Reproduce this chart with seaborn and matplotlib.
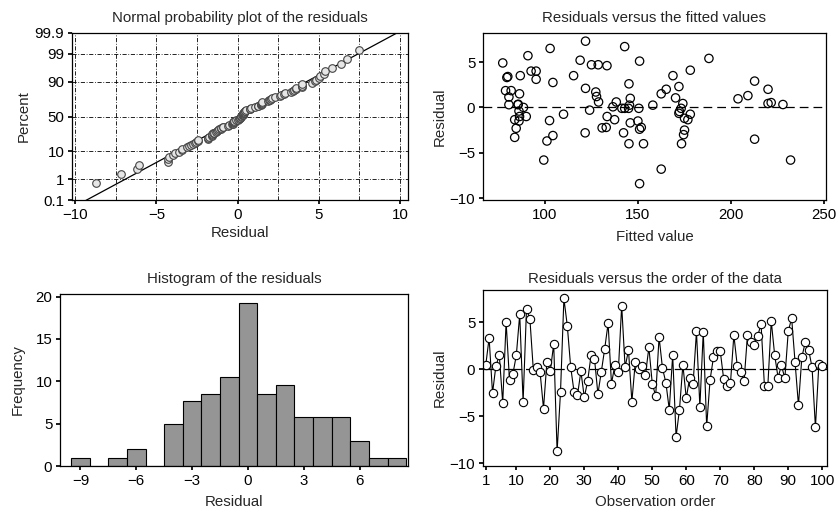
import numpy as np
import pandas as pd
import matplotlib
matplotlib.use('Agg')
import matplotlib.pyplot as plt
import matplotlib.ticker as mticker
import seaborn as sns
from statistics import NormalDist

# residuals in observation order
order_resid = [0.4, 3.3, -2.55, 0.35, 1.45, -3.6, 5.0, -1.2, -0.5, 1.45,
               5.8, -3.45, 6.4, 5.3, -0.07, 0.18, -0.35, -4.2, 0.8, -0.2,
               2.65, -8.75, -2.45, 7.5, 4.6, 0.2, -2.45, -2.75, -0.25, -3.0,
               -1.25, 1.5, 1.1, -2.65, -0.3, 2.15, 4.85, -1.55, 0.45, -0.3,
               6.75, 0.2, 2.0, -3.45, 0.75, 0.0, 0.3, -0.6, 2.3, -1.55,
               -2.85, 3.4, 0.1, -1.45, -4.3, 1.5, -7.2, -4.3, 0.45, -3.1,
               -0.9, -1.6, 4.0, -4.0, 3.95, -6.1, -1.15, 1.25, 1.95, 1.9,
               -1.05, -1.85, -1.5, 3.6, 0.35, -0.3, -1.3, 3.6, 2.9, 2.6,
               3.5, 4.8, -1.85, -1.75, 5.1, 1.5, -0.9, 0.4, -1.0, 4.0,
               5.4, 0.75, -3.85, 1.25, 2.85, 2.05, 0.18, -6.2, 0.5, 0.35]

# residuals versus fitted values
fitted = [77.6, 79.8, 80.3, 79.1, 82.1, 80.9, 80.9, 86.6, 87.0, 91.1,
          92.8, 95.5, 95.5, 85.7, 86.3, 86.6, 88.7, 90.2, 84.0, 84.8,
          84.0, 86.3, 85.9, 103.0, 104.5, 102.7, 104.5, 101.3, 99.6, 110.2,
          115.6, 119.1, 122.0, 122.0, 124.2, 121.8, 125.2, 128.8, 127.5, 127.9,
          129.0, 133.5, 130.9, 133.1, 133.6, 137.6, 136.7, 138.5, 141.5, 143.0,
          142.4, 143.0, 145.1, 145.6, 146.0, 145.3, 146.0, 145.3, 150.6, 150.1,
          151.0, 151.9, 151.0, 153.1, 151.0, 158.1, 162.6, 165.3, 162.6, 168.9,
          170.3, 172.1, 172.1, 172.4, 173.3, 174.2, 174.6, 173.5, 175.1, 175.1,
          176.9, 178.2, 178.2, 188.2, 203.8, 209.1, 212.7, 212.7, 219.9, 219.9,
          221.6, 227.9, 232.0]
fitted_resid = [4.9, 3.3, 3.4, 1.85, 1.85, 1.15, 0.3, 1.5, 3.5, 5.7,
                4.0, 4.0, 3.1, 0.3, -0.4, -1.0, 0.0, -1.0, -1.35, -2.3,
                -3.3, -1.5, 0.35, 6.5, 2.75, -1.45, -3.1, -3.7, -5.8, -0.75,
                3.5, 5.2, 7.3, 2.1, -0.3, -2.8, 4.7, 4.7, 1.7, 1.2,
                0.6, 4.6, -2.25, -2.2, -1.0, -1.35, 0.07, 0.6, -0.1, -0.1,
                -2.8, 6.7, -0.1, 0.25, 1.0, 2.6, -1.7, -4.0, -0.1, -1.5,
                -2.4, -2.2, 5.1, -4.0, -8.4, 0.25, 1.5, 2.0, -6.8, 3.5,
                1.05, 2.3, -0.65, -0.45, -0.1, 0.43, -3.0, -4.0, -2.5, -1.2,
                -1.35, -0.75, 4.1, 5.4, 0.95, 1.3, 2.9, -3.5, 2.0, 0.43,
                0.53, 0.32, -5.8]

# histogram (bin centres and bar heights)
hist_centers = [-9, -7, -6, -4, -3, -2, -1, 0, 1, 2, 3, 4, 5, 6, 7, 8]
hist_counts = [1, 1, 2, 5, 7.7, 8.5, 10.5, 19.2, 8.5, 9.6, 5.8, 5.8, 5.8, 2.9, 1, 1]
hist_edges = [e - 0.5 for e in range(-9, 10)]

prob_ticks = [0.1, 1, 10, 50, 90, 99, 99.9]

sns.set_theme(style='ticks')
plt.rcParams['font.family'] = ['Liberation Sans', 'DejaVu Sans']
fs = 10.8
plt.rcParams['font.size'] = fs
plt.rcParams['axes.edgecolor'] = 'black'
plt.rcParams['axes.linewidth'] = 0.9
plt.rcParams['xtick.color'] = 'black'
plt.rcParams['ytick.color'] = 'black'
plt.rcParams['xtick.labelsize'] = fs
plt.rcParams['ytick.labelsize'] = fs
plt.rcParams['axes.labelsize'] = fs
plt.rcParams['axes.titlesize'] = fs
plt.rcParams['xtick.major.size'] = 3
plt.rcParams['ytick.major.size'] = 3
plt.rcParams['xtick.major.pad'] = 2.5
plt.rcParams['ytick.major.pad'] = 2.5

W, H = 839, 515
fig = plt.figure(figsize=(W / 100, H / 100), dpi=100)


def box(l, r, t, b):
    return fig.add_axes([l / W, (H - b) / H, (r - l) / W, (b - t) / H])


nd = NormalDist()
_inv = np.vectorize(lambda p: nd.inv_cdf(p), otypes=[float])
_cdf = np.vectorize(lambda z: nd.cdf(z), otypes=[float])


def pct_to_z(p):
    p = np.clip(np.asarray(p, dtype=float) / 100.0, 1e-9, 1 - 1e-9)
    return _inv(p)


def z_to_pct(z):
    return _cdf(np.asarray(z, dtype=float)) * 100.0


# --- normal probability plot
ax1 = box(72, 408, 33, 200)
res = np.sort(np.array(order_resid))
n = len(res)
pct = (np.arange(1, n + 1) - 0.3) / (n + 0.4) * 100
mu, sd = res.mean(), res.std(ddof=1)
ax1.set_yscale('function', functions=(pct_to_z, z_to_pct))
line_p = np.array([0.05, 0.1, 1, 10, 50, 90, 99, 99.9, 99.95])
ax1.plot(mu + sd * pct_to_z(line_p), line_p, color='black', lw=0.9, zorder=2)
sns.scatterplot(x=res, y=pct, ax=ax1, marker='o', s=30, facecolor='#e6e6e6',
                edgecolor='#444444', linewidth=0.8, zorder=3)
ax1.set_xlim(-10.2, 10.5)
ax1.set_ylim(0.1, 99.9)
ax1.yaxis.set_major_locator(mticker.FixedLocator(prob_ticks))
ax1.yaxis.set_major_formatter(mticker.FixedFormatter([str(t) if t % 1 else str(int(t)) for t in prob_ticks]))
ax1.yaxis.set_minor_locator(mticker.NullLocator())
ax1.set_xticks([-10, -5, 0, 5, 10])
ax1.set_xticklabels(['\u221210', '\u22125', '0', '5', '10'])
for xv in np.arange(-10, 10.1, 2.5):
    ax1.axvline(xv, color='black', lw=0.6, ls=(0, (5, 2, 1, 2)), zorder=1)
for yv in [1, 10, 50, 90, 99]:
    ax1.axhline(yv, color='black', lw=0.6, ls=(0, (5, 2, 1, 2)), zorder=1)
ax1.set_title('Normal probability plot of the residuals', pad=8)
ax1.set_xlabel('Residual', labelpad=3)
ax1.set_ylabel('Percent', labelpad=3)

# --- residuals vs fitted
ax2 = box(483, 826, 33, 200)
fit_df = pd.DataFrame({'fitted': fitted, 'resid': fitted_resid})
sns.scatterplot(data=fit_df, x='fitted', y='resid', ax=ax2, marker='o', s=36,
                facecolor='none', edgecolor='black', linewidth=0.9)
ax2.axhline(0, color='black', lw=0.9, ls=(0, (7, 4)))
ax2.set_xlim(67, 251)
ax2.set_ylim(-10.2, 8.2)
ax2.set_xticks([100, 150, 200, 250])
ax2.set_yticks([-10, -5, 0, 5])
ax2.set_yticklabels(['\u221210', '\u22125', '0', '5'])
ax2.set_title('Residuals versus the fitted values', pad=8)
ax2.set_xlabel('Fitted value', labelpad=6)
ax2.set_ylabel('Residual', labelpad=2)

# --- histogram
ax3 = box(60, 408, 294, 466)
hist_df = pd.DataFrame({'centre': hist_centers, 'count': hist_counts})
sns.histplot(data=hist_df, x='centre', weights='count', bins=hist_edges,
             ax=ax3, color='#959595', edgecolor='black', linewidth=0.8, alpha=1)
ax3.set_xlim(-10.1, 8.6)
ax3.set_ylim(0, 20.3)
ax3.set_xticks([-9, -6, -3, 0, 3, 6])
ax3.set_xticklabels(['\u22129', '\u22126', '\u22123', '0', '3', '6'])
ax3.set_yticks([0, 5, 10, 15, 20])
ax3.set_title('Histogram of the residuals', pad=8)
ax3.set_xlabel('Residual', labelpad=5)
ax3.set_ylabel('Frequency', labelpad=8)

# --- residuals vs order
ax4 = box(483, 827, 290, 466)
order_df = pd.DataFrame({'obs': np.arange(1, len(order_resid) + 1), 'resid': order_resid})
ax4.axhline(0, color='black', lw=0.9, ls=(0, (14, 3)), zorder=1)
sns.lineplot(data=order_df, x='obs', y='resid', ax=ax4, color='black', lw=0.8,
             marker='o', markersize=6, markerfacecolor='white',
             markeredgecolor='black', markeredgewidth=0.8, zorder=2)
ax4.set_xlim(0.2, 101.4)
ax4.set_ylim(-10.3, 8.4)
ax4.set_xticks([1, 10, 20, 30, 40, 50, 60, 70, 80, 90, 100])
ax4.set_yticks([-10, -5, 0, 5])
ax4.set_yticklabels(['\u221210', '\u22125', '0', '5'])
ax4.set_title('Residuals versus the order of the data', pad=5)
ax4.set_xlabel('Observation order', labelpad=5)
ax4.set_ylabel('Residual', labelpad=2)

for ax in (ax1, ax2, ax3, ax4):
    for sp in ax.spines.values():
        sp.set_visible(True)
        sp.set_color('black')

fig.savefig('out.png', dpi=100)
